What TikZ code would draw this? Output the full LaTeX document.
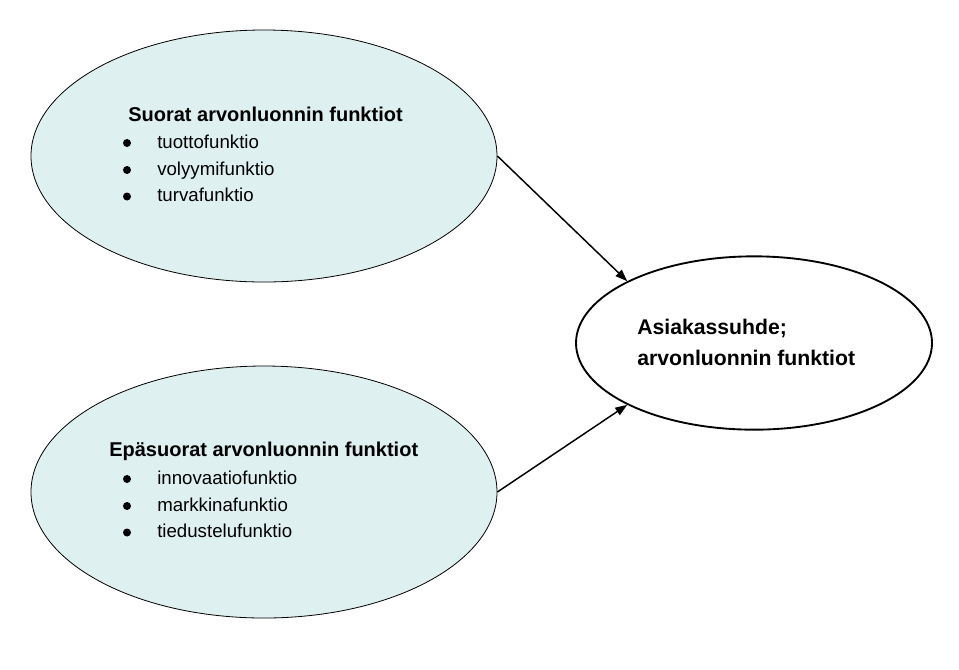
\documentclass[tikz,border=0pt]{standalone}
\usepackage{fontspec}
\setmainfont{Liberation Sans}
\usetikzlibrary{shapes.geometric,arrows.meta}
\definecolor{ellfill}{RGB}{223,240,240}
\begin{document}
\begin{tikzpicture}[x=0.75pt,y=-0.75pt]
		\useasboundingbox (0,0) rectangle (959,669);
		
		%Styles
		\tikzset{
			funcell/.style={ellipse,draw,fill=ellfill,line width=0.6pt,inner sep=0pt,minimum width=349.5pt,minimum height=189pt},
			relell/.style={ellipse,draw,line width=1.4pt,inner sep=0pt,minimum width=267pt,minimum height=130pt},
			heading/.style={anchor=base west,inner sep=0pt,font=\fontsize{15}{18}\selectfont\bfseries},
			item/.style={anchor=base west,inner sep=0pt,font=\fontsize{14}{17}\selectfont},
			bulletdot/.style={circle,fill=black,inner sep=0pt,minimum size=6pt},
			link/.style={-{Triangle[length=9pt,width=6.5pt]},line width=1.1pt}
		}
		
		%Ellipses
		\node[funcell] (direct) at (264,156) {};
		\node[funcell] (indirect) at (264,492) {};
		\node[relell] (relation) at (754,343) {};
		
		%Direct functions
		\node[heading] (directhead) at (128,121) {Suorat arvonluonnin funktiot};
		\node[bulletdot] (da) at (127,143) {};
		\node[item] (directa) at (157,148) {tuottofunktio};
		\node[bulletdot] (db) at (127,170) {};
		\node[item] (directb) at (157,175) {volyymifunktio};
		\node[bulletdot] (dc) at (127,196.5) {};
		\node[item] (directc) at (157,201.5) {turvafunktio};
		
		%Indirect functions
		\node[heading] (indirecthead) at (109,456.5) {Epäsuorat arvonluonnin funktiot};
		\node[bulletdot] (ia) at (127,479) {};
		\node[item] (indirecta) at (157,484) {innovaatiofunktio};
		\node[bulletdot] (ib) at (127,506) {};
		\node[item] (indirectb) at (157,511) {markkinafunktio};
		\node[bulletdot] (ic) at (127,532.5) {};
		\node[item] (indirectc) at (157,537.5) {tiedustelufunktio};
		
		%Customer relationship
		\node[heading,font=\fontsize{15.9}{19}\selectfont\bfseries] (relationa) at (637,334) {Asiakassuhde;};
		\node[heading,font=\fontsize{15.9}{19}\selectfont\bfseries] (relationb) at (637,365) {arvonluonnin funktiot};
		
		%Arrows
		\draw[link] (direct.east) -- (relation.154);
		\draw[link] (indirect.east) -- (relation.206);
	\end{tikzpicture}
\end{document}
